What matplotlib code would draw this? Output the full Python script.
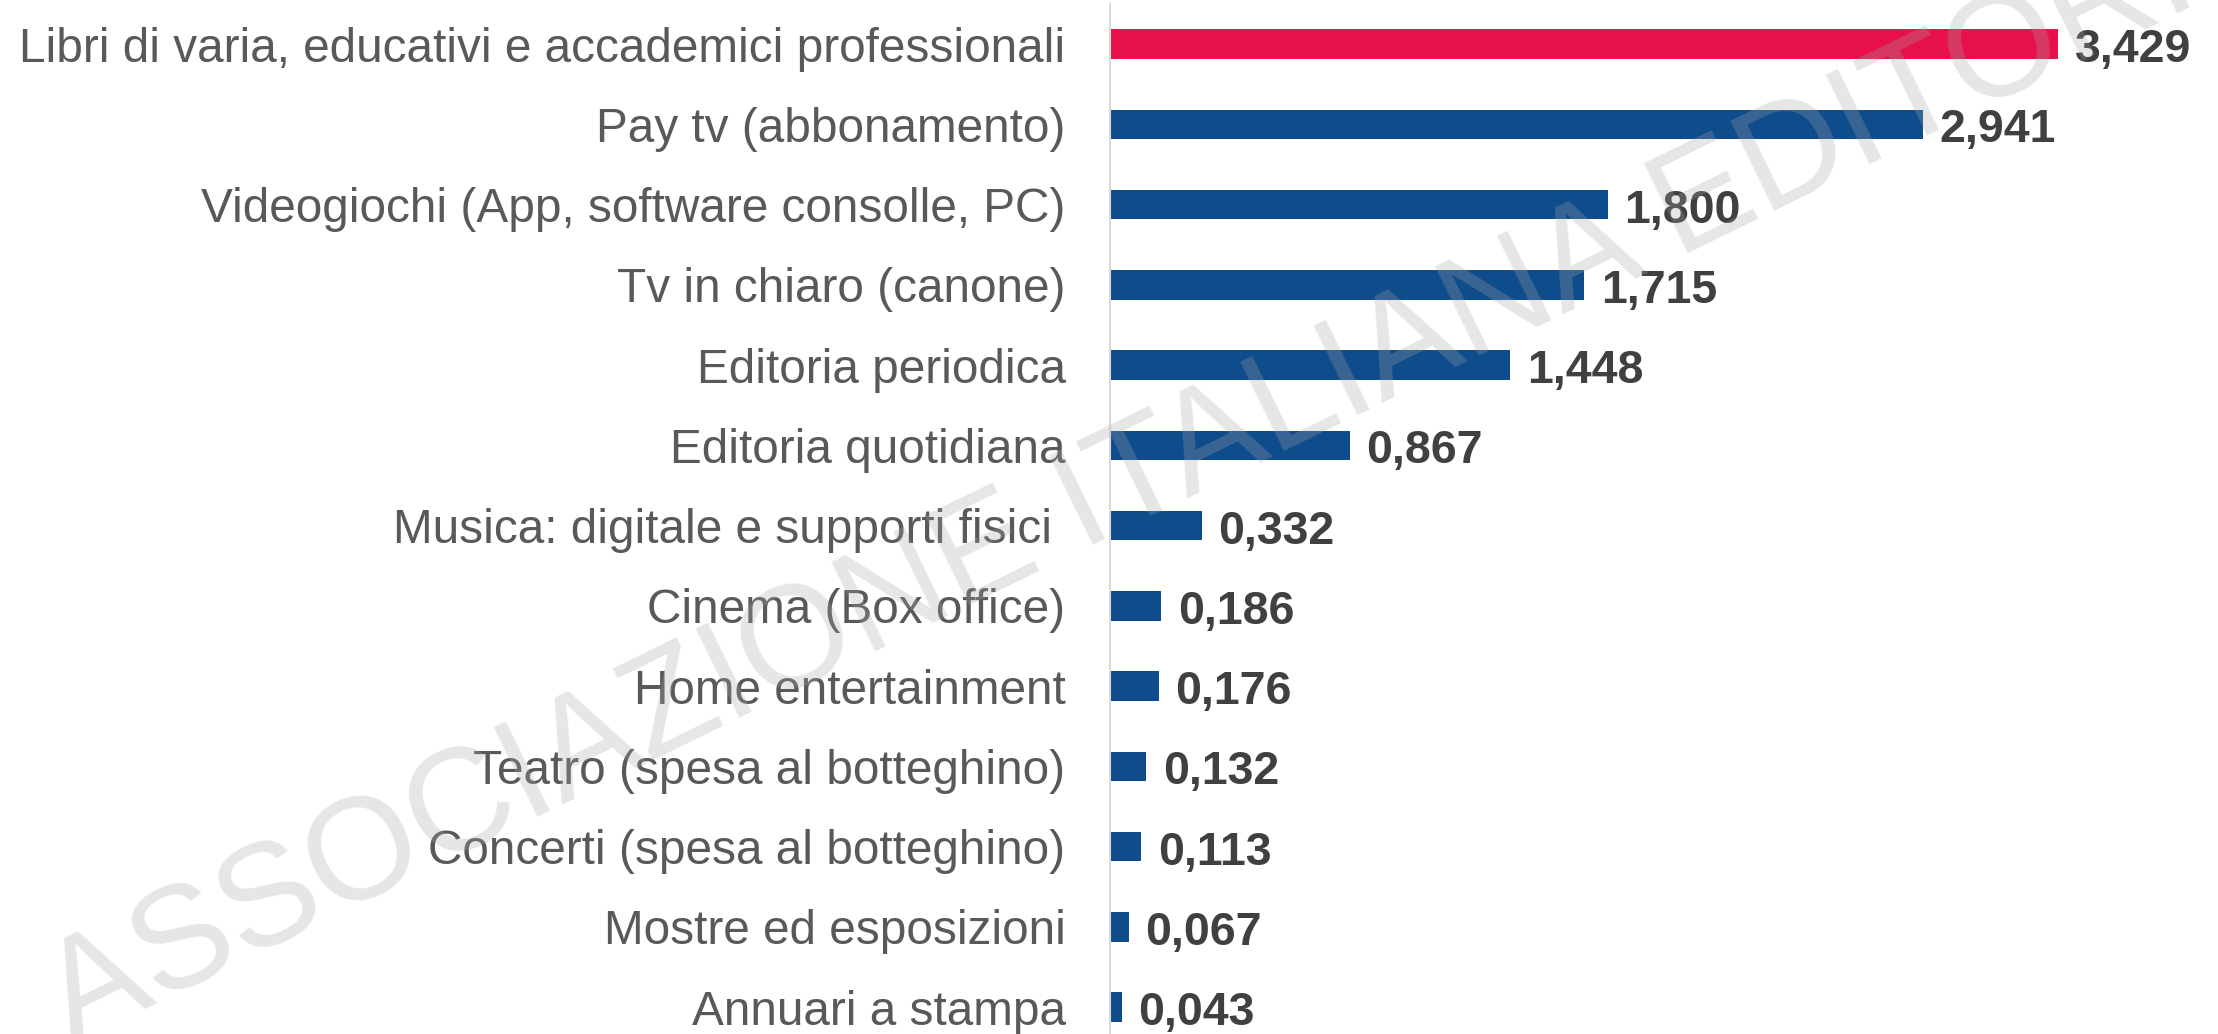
import matplotlib
matplotlib.use("Agg")
import matplotlib.pyplot as plt

plt.rcParams['font.family'] = ['Liberation Sans', 'DejaVu Sans']

# ── Data ───────────────────────────────────────────────────────────────────
categories = [
    "Libri di varia, educativi e accademici professionali",
    "Pay tv (abbonamento)",
    "Videogiochi (App, software consolle, PC)",
    "Tv in chiaro (canone)",
    "Editoria periodica",
    "Editoria quotidiana",
    "Musica: digitale e supporti fisici ",
    "Cinema (Box office)",
    "Home entertainment",
    "Teatro (spesa al botteghino)",
    "Concerti (spesa al botteghino)",
    "Mostre ed esposizioni",
    "Annuari a stampa",
]
values = [3.429, 2.941, 1.800, 1.715, 1.448, 0.867, 0.332,
          0.186, 0.176, 0.132, 0.113, 0.067, 0.043]
value_labels = ["3,429", "2,941", "1,800", "1,715", "1,448", "0,867", "0,332",
                "0,186", "0,176", "0,132", "0,113", "0,067", "0,043"]
highlight = "Libri di varia, educativi e accademici professionali"
watermark = "ASSOCIAZIONE ITALIANA EDITORI"

# ── Style ──────────────────────────────────────────────────────────────────
RED = "#E8104A"
BLUE = "#0E4C8C"
LABEL_GREY = "#595959"
VALUE_GREY = "#404040"

W, H, DPI = 2218, 1034, 100
fig = plt.figure(figsize=(W / DPI, H / DPI), dpi=DPI)
fig.patch.set_facecolor("white")

# axes placed in pixels: spine at x=1110, ~276.5 px per unit
px_per_unit = 276.5
ax_left = 1110 / W
xmax = 4.0
ax = fig.add_axes([ax_left, 0, xmax * px_per_unit / W, 1030 / H])

ypos = list(range(len(categories)))
colors = [RED if c == highlight else BLUE for c in categories]
bars = ax.barh(ypos, values, height=0.37, color=colors, zorder=2)

ax.set_xlim(0, xmax)
ax.set_ylim(12.335, -0.5)
ax.set_yticks(ypos)
ax.set_yticklabels(categories, fontsize=34.4, color=LABEL_GREY)
ax.tick_params(axis='y', length=0, pad=32)
ax.set_xticks([])

for side in ("top", "right", "bottom"):
    ax.spines[side].set_visible(False)
ax.spines["left"].set_color("#D9D9D9")
ax.spines["left"].set_linewidth(1.5)

# value labels: baseline a bit below bar centre, like the source
for y, v, lab in zip(ypos, values, value_labels):
    ax.annotate(lab, xy=(v, y), xytext=(12, -13), textcoords="offset points",
                ha="left", va="baseline", fontsize=33.5, fontweight="bold",
                color=VALUE_GREY, annotation_clip=False)

# diagonal watermark over the whole picture
fig.text(1137 / W, 1 - 523 / H, watermark, fontsize=104, color="#a6a6a6",
         alpha=0.28, rotation=26.1, rotation_mode="anchor",
         ha="center", va="baseline", zorder=10)

fig.savefig("out.png", dpi=DPI, facecolor="white")
